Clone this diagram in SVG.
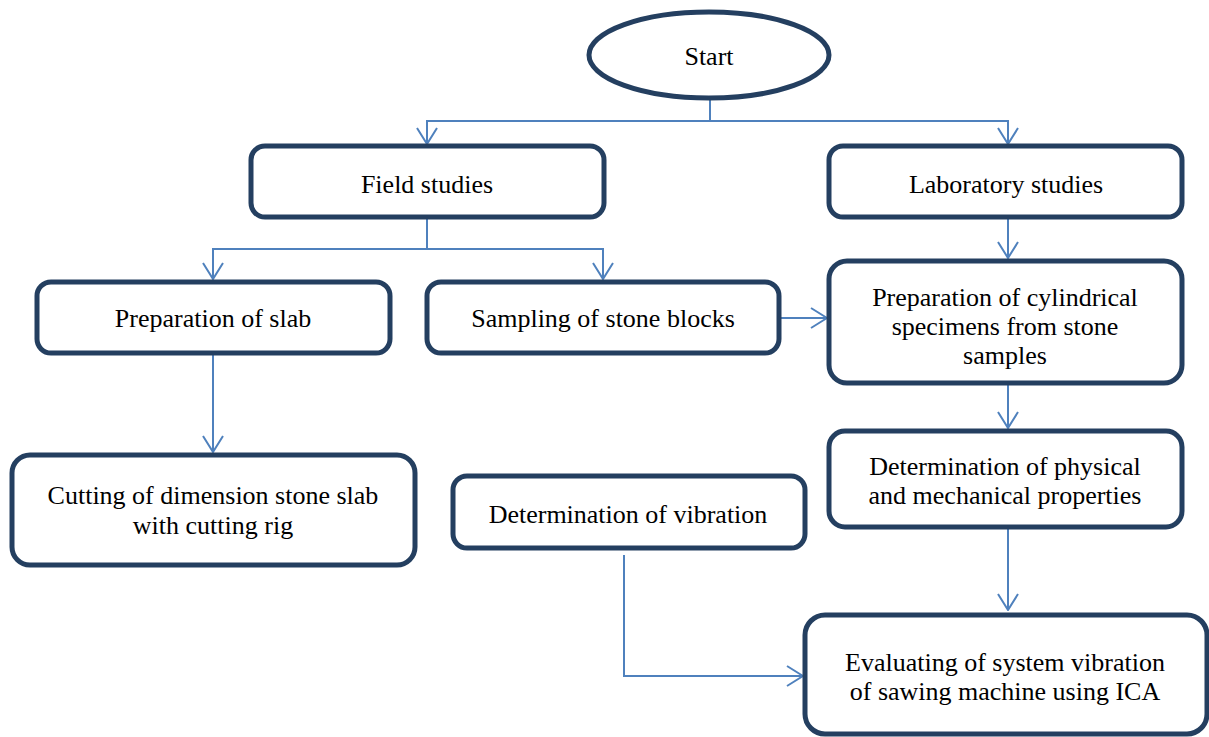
<svg xmlns="http://www.w3.org/2000/svg" width="1209" height="737" viewBox="0 0 1209 737">
<style>
.box{fill:#fff;stroke:#243F60;stroke-width:5}
.t{font-family:"Liberation Serif","Times New Roman",serif;font-size:26px;fill:#000;text-anchor:middle;dominant-baseline:central}
.c{fill:none;stroke:#4F81BD;stroke-width:2;marker-end:url(#ah)}
.cn{fill:none;stroke:#4F81BD;stroke-width:2}
</style>
<defs>
<marker id="ah" markerUnits="userSpaceOnUse" viewBox="0 0 18 22" refX="17" refY="11" markerWidth="18" markerHeight="22" orient="auto">
<path d="M1,1 L17,11 L1,21" fill="none" stroke="#4F81BD" stroke-width="2"/>
</marker>
</defs>
<rect width="1209" height="737" fill="#fff"/>
<g id="connectors">
<polyline class="cn" points="710,99 710,121"/>
<polyline class="c" points="710,121 427,121 427,144"/>
<polyline class="c" points="710,121 1008,121 1008,144"/>
<polyline class="cn" points="427,217 427,249"/>
<polyline class="c" points="427,249 213,249 213,279"/>
<polyline class="c" points="427,249 603,249 603,279"/>
<polyline class="c" points="1008,217 1008,258"/>
<polyline class="c" points="779,318 827,318"/>
<polyline class="c" points="1008,383 1008,428"/>
<polyline class="c" points="1008,527 1008,610"/>
<polyline class="c" points="213,354 213,452"/>
<polyline class="c" points="624,555 624,676 803,676"/>
</g>
<g id="start">
<ellipse class="box" cx="709" cy="55" rx="120" ry="43"/>
<text class="t" x="709" y="56">Start</text>
</g>
<g id="field">
<rect class="box" x="251" y="146" width="353" height="71" rx="14"/>
<text class="t" x="427" y="184">Field studies</text>
</g>
<g id="lab">
<rect class="box" x="829" y="146" width="353" height="71" rx="14"/>
<text class="t" x="1006" y="184">Laboratory studies</text>
</g>
<g id="prepslab">
<rect class="box" x="37" y="282" width="353" height="71" rx="14"/>
<text class="t" x="213" y="318">Preparation of slab</text>
</g>
<g id="sampling">
<rect class="box" x="427" y="282" width="352" height="71" rx="14"/>
<text class="t" x="603" y="318">Sampling of stone blocks</text>
</g>
<g id="cylindrical">
<rect class="box" x="829" y="261" width="353" height="122" rx="18"/>
<text class="t" x="1005" y="297">Preparation of cylindrical</text>
<text class="t" x="1005" y="326">specimens from stone</text>
<text class="t" x="1005" y="355">samples</text>
</g>
<g id="physical">
<rect class="box" x="829" y="431" width="353" height="96" rx="16"/>
<text class="t" x="1005" y="466">Determination of physical</text>
<text class="t" x="1005" y="495">and mechanical properties</text>
</g>
<g id="vibration">
<rect class="box" x="453" y="476" width="352" height="72" rx="14"/>
<text class="t" x="628" y="514">Determination of vibration</text>
</g>
<g id="cutting">
<rect class="box" x="12" y="455" width="403" height="110" rx="18"/>
<text class="t" x="213" y="495">Cutting of dimension stone slab</text>
<text class="t" x="213" y="525">with cutting rig</text>
</g>
<g id="evaluating">
<rect class="box" x="805" y="615" width="402" height="119" rx="20"/>
<text class="t" x="1005" y="662">Evaluating of system vibration</text>
<text class="t" x="1005" y="691">of sawing machine using ICA</text>
</g>
</svg>
